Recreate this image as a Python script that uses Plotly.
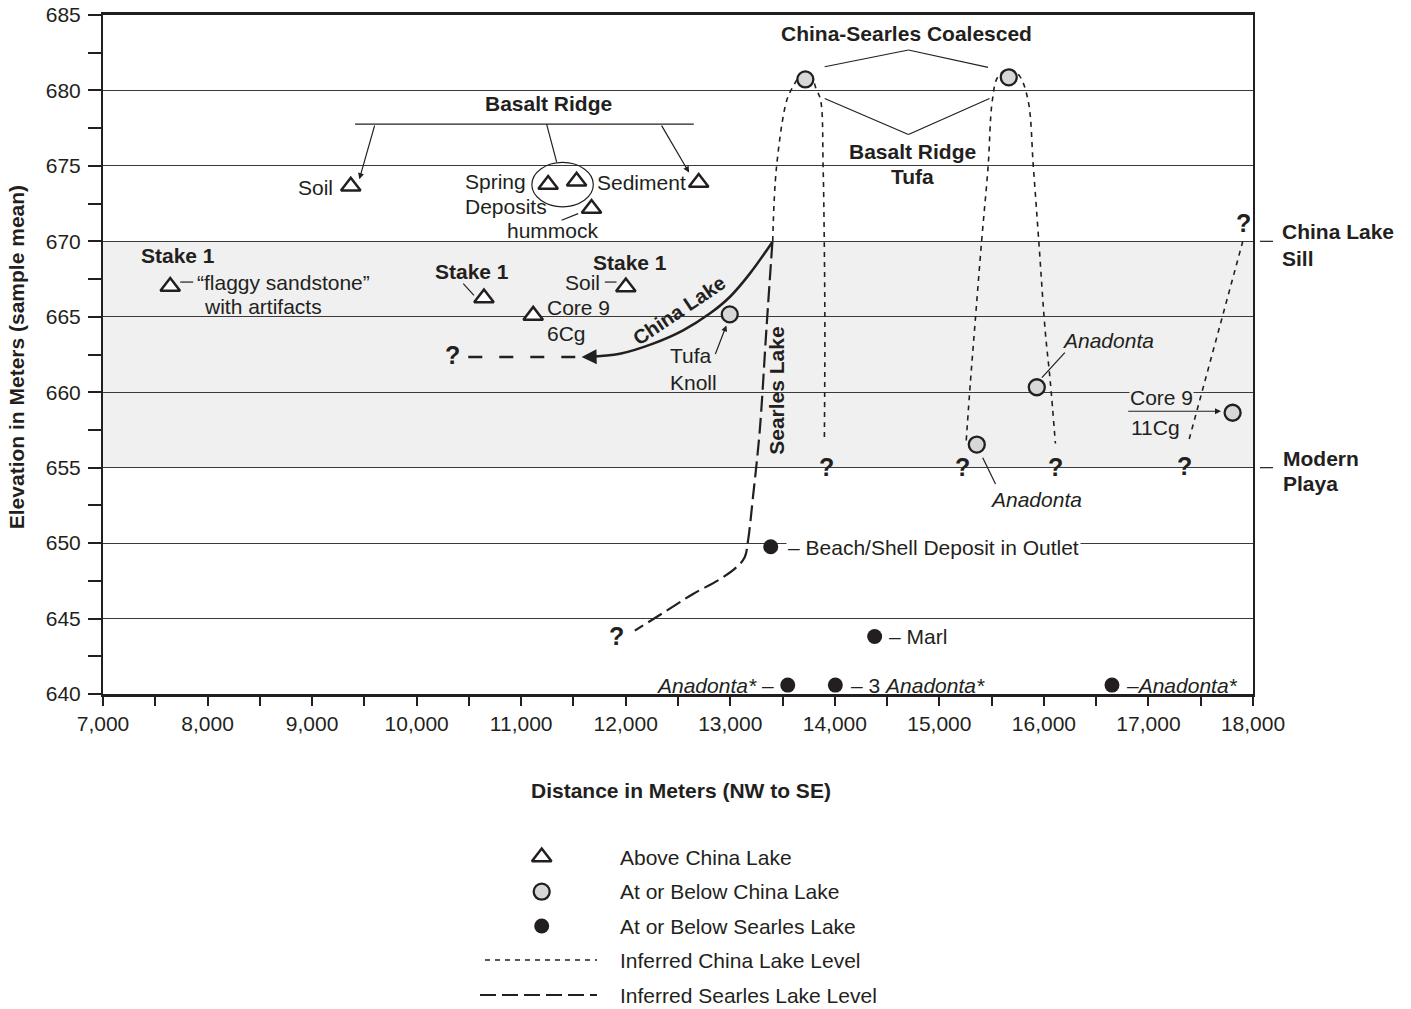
import plotly.graph_objects as go

# ---------------- data ----------------
# Above China Lake (open triangles)
above_x = [7643, 9370, 11258, 11530, 11673, 12698, 10644, 11115, 12001]
above_y = [667.0, 673.65, 673.77, 673.98, 672.17, 673.9, 666.24, 665.09, 666.97]
# At or Below China Lake (grey circles)
china_x = [13718, 15664, 12995, 15358, 15932, 17805]
china_y = [680.73, 680.87, 665.16, 656.53, 660.33, 658.64]
# At or Below Searles Lake (black dots)
searles_x = [13387, 14381, 13550, 14005, 16651]
searles_y = [649.76, 643.81, 640.59, 640.59, 640.59]

# Inferred China Lake level (dotted arches)
arch1_x = [13406, 13442, 13541, 13604, 13660, 13718, 13780, 13819, 13864, 13888, 13899, 13905, 13900]
arch1_y = [670.0, 674.9, 679.36, 680.3, 680.9, 681.1, 680.9, 680.14, 679.36, 674.93, 670.0, 664.1, 656.8]
arch2_x = [15257, 15298, 15336, 15404, 15466, 15507, 15560, 15664, 15762, 15848, 15899, 15951, 16012, 16060, 16110]
arch2_y = [656.8, 660.78, 664.1, 670.0, 674.93, 679.36, 680.9, 681.4, 681.0, 679.36, 674.93, 670.0, 664.1, 660.78, 656.6]
arch3_x = [17390, 17910]
arch3_y = [656.9, 670.2]
# Inferred Searles Lake level (long dash)
slake_x = [13403, 13345, 13282, 13217, 13170, 13138, 13059, 12899, 12644, 12390, 12087]
slake_y = [669.96, 664.1, 657.46, 653.04, 650.17, 649.06, 648.4, 647.6, 646.63, 645.52, 644.2]
# China Lake recession (solid curve with arrow)
clake_x = [13403, 13187, 12995, 12804, 12549, 12262, 11944, 11640]
clake_y = [669.96, 667.86, 666.31, 665.21, 664.1, 663.22, 662.55, 662.34]
# dashed continuation left of arrow
cdash_x = [10494, 11561]
cdash_y = [662.33, 662.33]

x_ticks = list(range(7000, 18001, 1000))
y_ticks = list(range(640, 686, 5))

legend_labels = ['Above China Lake', 'At or Below China Lake', 'At or Below Searles Lake',
                 'Inferred China Lake Level', 'Inferred Searles Lake Level']

# ---------------- style ----------------
INK = '#231f20'
BAND = '#eff0ef'
GREY = '#d6d7d8'
FONT = 'Liberation Sans, Arial, Helvetica, sans-serif'
W, H = 1411, 1009
ML, MR, MT, MB = 103, 158, 15, 5
PH = H - MT - MB
Y0 = (H - MB - 694) / PH


def py_paper(v):
    return Y0 + (v - 640) / 45 * (1 - Y0)


def px_paper(px):
    return (px - ML) / (W - ML - MR)


fig = go.Figure()

# shaded band between modern playa and China Lake sill
fig.add_shape(type='rect', xref='x', yref='y', x0=7000, x1=18000, y0=655, y1=670,
              fillcolor=BAND, line_width=0, layer='below')

dotted = dict(color=INK, width=1.6, dash='5px,5px')
for xs, ys in [(arch1_x, arch1_y), (arch2_x, arch2_y)]:
    fig.add_trace(go.Scatter(x=xs, y=ys, mode='lines', line=dict(**dotted, shape='spline', smoothing=1.0),
                             hoverinfo='skip', showlegend=False))
fig.add_trace(go.Scatter(x=arch3_x, y=arch3_y, mode='lines', line=dotted, hoverinfo='skip', showlegend=False))
fig.add_trace(go.Scatter(x=slake_x, y=slake_y, mode='lines',
                         line=dict(color=INK, width=2.2, dash='16px,6px', shape='spline', smoothing=1.0),
                         hoverinfo='skip', showlegend=False))
fig.add_trace(go.Scatter(x=clake_x, y=clake_y, mode='lines',
                         line=dict(color=INK, width=2.5, shape='spline', smoothing=1.0),
                         hoverinfo='skip', showlegend=False))
fig.add_trace(go.Scatter(x=cdash_x, y=cdash_y, mode='lines',
                         line=dict(color=INK, width=2.5, dash='14px,17px'),
                         hoverinfo='skip', showlegend=False))

tri_marker = dict(symbol='triangle-up', size=17, color='white', line=dict(color=INK, width=2.5))
circ_marker = dict(symbol='circle', size=16, color=GREY, line=dict(color=INK, width=2.3))
dot_marker = dict(symbol='circle', size=15, color=INK, line=dict(width=0))

fig.add_trace(go.Scatter(x=above_x, y=above_y, mode='markers', marker=tri_marker, cliponaxis=False, showlegend=False))
fig.add_trace(go.Scatter(x=china_x, y=china_y, mode='markers', marker=circ_marker, cliponaxis=False, showlegend=False))
fig.add_trace(go.Scatter(x=searles_x, y=searles_y, mode='markers', marker=dot_marker, cliponaxis=False, showlegend=False))

# ---------------- legend (drawn on a pixel-scaled helper axis) ----------------
leg_rows = [857, 891.7, 926, 960, 995]
fig.add_trace(go.Scatter(x=[541.7], y=[leg_rows[0]], xaxis='x2', yaxis='y2', mode='markers', marker=tri_marker, showlegend=False, cliponaxis=False))
fig.add_trace(go.Scatter(x=[541.7], y=[leg_rows[1]], xaxis='x2', yaxis='y2', mode='markers', marker=circ_marker, showlegend=False, cliponaxis=False))
fig.add_trace(go.Scatter(x=[541.7], y=[leg_rows[2]], xaxis='x2', yaxis='y2', mode='markers', marker=dot_marker, showlegend=False, cliponaxis=False))
fig.add_trace(go.Scatter(x=[485, 597], y=[leg_rows[3]] * 2, xaxis='x2', yaxis='y2', mode='lines', line=dotted, showlegend=False))
fig.add_trace(go.Scatter(x=[480, 597], y=[leg_rows[4]] * 2, xaxis='x2', yaxis='y2', mode='lines',
                         line=dict(color=INK, width=2.2, dash='16px,6px'), showlegend=False))

# ---------------- leader lines ----------------
def seg(x0, y0, x1, y1, w=1.2):
    fig.add_shape(type='line', xref='x', yref='y', x0=x0, y0=y0, x1=x1, y1=y1,
                  line=dict(color=INK, width=w), layer='above')

seg(9411, 677.77, 12651, 677.77)            # Basalt Ridge bracket
seg(11243, 677.77, 11339, 675.27)           # to spring deposits ellipse
seg(11386, 671.4, 11545, 671.84)            # hummock leader
seg(10446, 667.2, 10548, 666.42)            # Stake 1 leader
seg(7739, 667.3, 7863, 667.3)               # flaggy sandstone dash
seg(11800, 667.3, 11912, 667.3)             # Soil dash
seg(13903, 681.57, 14704, 682.68); seg(14704, 682.68, 15466, 681.53)   # coalesced bracket
seg(13903, 679.47, 14704, 677.08); seg(14704, 677.08, 15480, 679.47)   # basalt ridge tufa bracket
seg(16200, 662.63, 15981, 660.97)           # Anadonta upper leader
seg(15415, 655.65, 15537, 653.92)           # Anadonta lower leader
fig.add_shape(type='circle', xref='x', yref='y', x0=11102, x1=11690, y0=672.29, y1=675.23,
              line=dict(color=INK, width=1.2), layer='above')
# right-hand ticks for sill / playa
for v in (670, 655):
    fig.add_shape(type='line', xref='paper', yref='paper', x0=px_paper(1260), x1=px_paper(1273),
                  y0=py_paper(v), y1=py_paper(v), line=dict(color=INK, width=1.2))

# ---------------- annotations ----------------
ann = []


def txt(x, y, s, size=21, bold=False, anchor='center', xref='x', yref='y', **kw):
    if bold:
        s = '<b>' + s + '</b>'
    ann.append(dict(x=x, y=y, xref=xref, yref=yref, text=s, showarrow=False, xanchor=anchor,
                    yanchor='middle', font=dict(family=FONT, size=size, color=INK), **kw))


def arrow(x, y, ax, ay, w=1.2, size=1.0):
    ann.append(dict(x=x, y=y, ax=ax, ay=ay, xref='x', yref='y', axref='x', ayref='y', text='',
                    showarrow=True, arrowhead=2, arrowsize=size, arrowwidth=w, arrowcolor=INK, standoff=0))


txt(11260, 679.16, 'Basalt Ridge', bold=True)
txt(9220, 673.6, 'Soil', anchor='right')
txt(10446, 673.94, 'Spring', anchor='left')
txt(10446, 672.28, 'Deposits', anchor='left')
txt(11303, 670.73, 'hummock')
txt(12151, 673.9, 'Sediment')
txt(14687, 683.79, 'China-Searles Coalesced', bold=True)
txt(14739, 675.93, 'Basalt Ridge', bold=True)
txt(14745, 674.27, 'Tufa', bold=True)
txt(7722, 669.07, 'Stake 1', bold=True)
txt(7882, 667.24, '\u201cflaggy sandstone\u201d', anchor='left')
txt(7946, 665.69, 'with artifacts', anchor='left')
txt(10526, 667.97, 'Stake 1', bold=True)
txt(12040, 668.63, 'Stake 1', bold=True)
txt(11769, 667.3, 'Soil', anchor='right')
txt(11227, 665.64, 'Core 9', anchor='left')
txt(11227, 663.88, '6Cg', anchor='left')
txt(12518, 665.42, 'China Lake', size=20, bold=True, textangle=-34)
txt(12407, 662.44, 'Tufa', anchor='left')
txt(12407, 660.67, 'Knoll', anchor='left')
txt(13441, 660.12, 'Searles Lake', bold=True, textangle=-90)
txt(16612, 663.43, '<i>Anadonta</i>')
txt(15926, 652.86, '<i>Anadonta</i>')
txt(16811, 659.63, 'Core 9', anchor='left', bgcolor=BAND, borderpad=0)
txt(16811, 657.68, '11Cg', anchor='left')
txt(13530, 649.72, '\u2013 Beach/Shell Deposit in Outlet', anchor='left', bgcolor='white', borderpad=1)
txt(14495, 643.81, '\u2013 Marl', anchor='left')
txt(13434, 640.59, '<i>Anadonta*</i> \u2013', anchor='right')
txt(14132, 640.59, '\u2013 3 <i>Anadonta*</i>', anchor='left')
txt(16771, 640.59, '\u2013<i>Anadonta*</i>', anchor='left')
for qx, qy in [(10345, 662.44), (11912, 643.86), (13925, 655.07), (15224, 655.07),
               (16110, 655.07), (17343, 655.1), (17906, 671.2)]:
    txt(qx, qy, '?', size=25, bold=True)
txt(px_paper(1280), 670.62, 'China Lake', bold=True, anchor='left', xref='paper')
txt(px_paper(1280), 668.86, 'Sill', bold=True, anchor='left', xref='paper')
txt(px_paper(1281), 655.58, 'Modern', bold=True, anchor='left', xref='paper')
txt(px_paper(1281), 653.92, 'Playa', bold=True, anchor='left', xref='paper')

arrow(9452, 674.12, 9602, 677.77)
arrow(12606, 674.56, 12335, 677.77)
arrow(12963, 664.43, 12852, 662.44)
arrow(17694, 658.74, 16792, 658.74)
arrow(11578, 662.33, 11700, 662.35, w=2.5, size=1.2)

# axis titles
txt(681, 790, 'Distance in Meters (NW to SE)', bold=True, xref='x2', yref='y2')
txt(px_paper(16.7), 662.3, 'Elevation in Meters (sample mean)', bold=True, xref='paper', textangle=-90)
# legend labels
for lbl, row in zip(legend_labels, leg_rows):
    txt(618, row, lbl, anchor='left', xref='x2', yref='y2')

fig.update_layout(
    template='none',
    width=W, height=H, autosize=False,
    margin=dict(l=ML, r=MR, t=MT, b=MB, autoexpand=False),
    paper_bgcolor='white', plot_bgcolor='white',
    showlegend=False,
    annotations=ann,
    font=dict(family=FONT, color=INK, size=21),
    xaxis=dict(domain=[0, 1], range=[7000, 18000], tickvals=x_ticks, automargin=False,
               ticktext=[f'{v:,}' for v in x_ticks], showgrid=False, zeroline=False,
               showline=True, linecolor=INK, linewidth=2.5, mirror=True,
               ticks='outside', ticklen=9, tickwidth=1.5, tickcolor=INK,
               tickfont=dict(family=FONT, size=21, color=INK),
               minor=dict(dtick=500, tick0=7000, ticks='outside', ticklen=9, tickwidth=1.5, tickcolor=INK, showgrid=False),
               anchor='y'),
    yaxis=dict(domain=[Y0, 1], range=[640, 685], tickvals=y_ticks, showgrid=True, automargin=False,
               gridcolor='#3a3a3a', gridwidth=1, zeroline=False,
               showline=True, linecolor=INK, linewidth=2, mirror=True,
               ticks='outside', ticklen=13, tickwidth=1.5, tickcolor=INK, ticklabelstandoff=3,
               tickfont=dict(family=FONT, size=21, color=INK),
               minor=dict(dtick=2.5, tick0=640, ticks='outside', ticklen=13, tickwidth=1.5, tickcolor=INK, showgrid=False),
               anchor='x'),
    xaxis2=dict(domain=[0, 1], range=[ML, W - MR], visible=False, anchor='y2', fixedrange=True, automargin=False),
    yaxis2=dict(domain=[0, Y0], range=[H - MB, 694], visible=False, anchor='x2', fixedrange=True, automargin=False),
)

fig.write_html(
    'out.html', config={'displayModeBar': False},
    post_script=("document.documentElement.style.margin='0';"
                 "document.body.style.margin='0';"
                 "document.documentElement.style.overflow='hidden';"
                 "document.body.style.overflow='hidden';"))
